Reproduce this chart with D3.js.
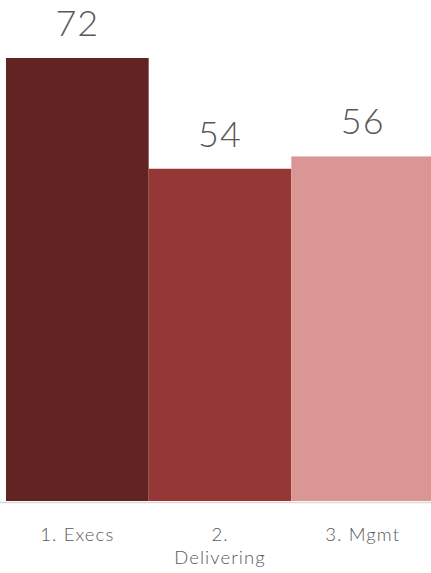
<!DOCTYPE html>
<html>
<head>
<meta charset="utf-8">
<script src="https://cdn.jsdelivr.net/npm/d3@7"></script>
<style>
  html, body { margin: 0; padding: 0; background: #fff; }
  svg { display: block; }
</style>
</head>
<body>
<script>
const categories = ["1. Execs", "2. Delivering", "3. Mgmt"];
const values = [72, 54, 56];
const colors = ["#622323", "#953735", "#D99694"];

const W = 431, H = 573;
const svg = d3.select("body").append("svg").attr("width", W).attr("height", H);

const x = d3.scaleBand().domain(categories).range([6, 434]).padding(0);
const y = d3.scaleLinear().domain([0, 72]).range([501, 58]);

const font = "Lato, 'DejaVu Sans', sans-serif";

svg.selectAll("rect.bar")
  .data(categories)
  .join("rect")
  .attr("class", "bar")
  .attr("x", d => x(d))
  .attr("width", x.bandwidth())
  .attr("y", (d, i) => y(values[i]))
  .attr("height", (d, i) => y(0) - y(values[i]))
  .attr("fill", (d, i) => colors[i]);

// baseline
svg.append("line")
  .attr("x1", 0).attr("x2", W)
  .attr("y1", y(0) + 1.5).attr("y2", y(0) + 1.5)
  .attr("stroke", "#d9d9d9").attr("stroke-width", 1.5);

// value labels
svg.selectAll("text.val")
  .data(categories)
  .join("text")
  .attr("class", "val")
  .attr("x", d => x(d) + x.bandwidth() / 2)
  .attr("y", (d, i) => y(values[i]) - 22)
  .attr("text-anchor", "middle")
  .attr("font-family", font)
  .attr("font-weight", 300)
  .attr("font-size", 36)
  .attr("letter-spacing", 1)
  .attr("fill", "#595959")
  .text((d, i) => values[i]);

// category labels via axis
const axis = d3.axisBottom(x).tickSize(0).tickPadding(0);
const gx = svg.append("g").attr("transform", `translate(0,${y(0) + 40})`).call(axis);
gx.select(".domain").remove();
gx.selectAll("text")
  .attr("font-family", font)
  .attr("font-weight", 300)
  .attr("font-size", 18.5)
  .attr("letter-spacing", 1.1)
  .attr("fill", "#595959")
  .attr("dy", 0)
  .each(function(d) {
    const t = d3.select(this);
    const words = d.split(" ");
    t.text(null);
    const maxW = 100;
    let line = [], lines = [];
    const tmp = t.append("tspan");
    words.forEach(w => {
      line.push(w);
      tmp.text(line.join(" "));
      if (tmp.node().getComputedTextLength() > maxW && line.length > 1) {
        line.pop();
        lines.push(line.join(" "));
        line = [w];
      }
    });
    lines.push(line.join(" "));
    tmp.remove();
    lines.forEach((l, i) => {
      t.append("tspan").attr("x", 0).attr("dy", i === 0 ? 0 : 22.5).text(l);
    });
  });
</script>
</body>
</html>
